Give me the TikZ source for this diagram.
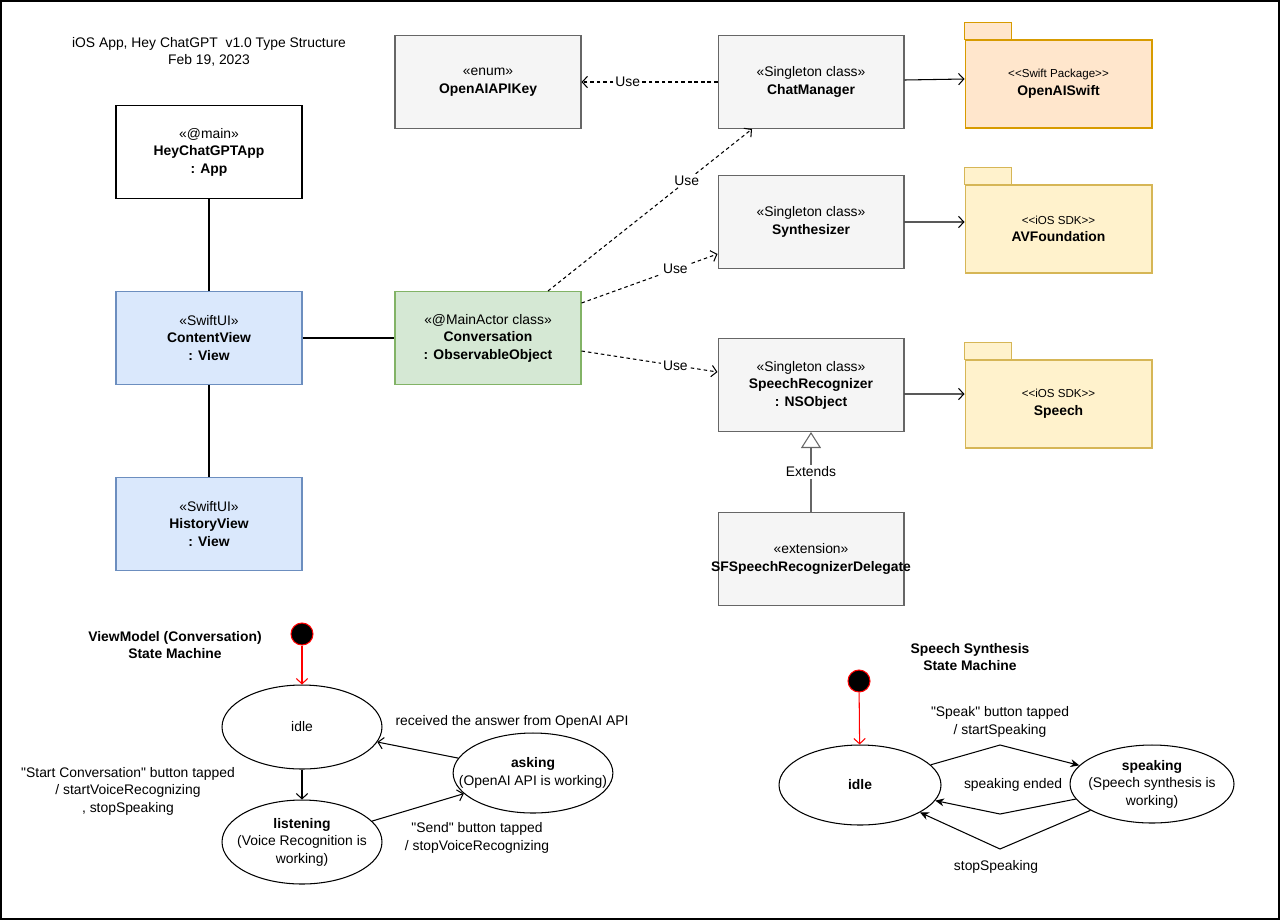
\documentclass[tikz,border=0pt]{standalone}
\usepackage{fontspec}
\setmainfont{Liberation Sans}[Ligatures=TeXOff]
\usetikzlibrary{arrows.meta,positioning,calc,shapes.geometric}

\definecolor{clsfill}{HTML}{F5F5F5}
\definecolor{clsline}{HTML}{666666}
\definecolor{viewfill}{HTML}{DAE8FC}
\definecolor{viewline}{HTML}{6C8EBF}
\definecolor{vmfill}{HTML}{D5E8D4}
\definecolor{vmline}{HTML}{82B366}
\definecolor{swfill}{HTML}{FFE6CC}
\definecolor{swline}{HTML}{D79B00}
\definecolor{sdkfill}{HTML}{FFF2CC}
\definecolor{sdkline}{HTML}{D6B656}

\begin{document}
\begin{tikzpicture}[x=0.02cm, y=-0.02cm, line width=0.6pt,
    font=\fontsize{7.9}{10}\selectfont,
    box/.style={draw, minimum width=3.72cm, minimum height=1.86cm, align=center, inner sep=1pt},
    cls/.style={box, draw=clsline, fill=clsfill},
    view/.style={box, draw=viewline, fill=viewfill},
    vm/.style={box, draw=vmline, fill=vmfill},
    pkg/.style={draw, minimum width=3.74cm, minimum height=1.76cm, align=center},
    use/.style={dash pattern=on 2pt off 1.7pt, -{Straight Barb[length=3pt,width=6.5pt]}},
    dep/.style={-{Straight Barb[length=3pt,width=6.5pt]}},
    lbl/.style={fill=white, inner sep=1pt},
    state/.style={ellipse, draw, inner xsep=-10pt, inner ysep=0pt, minimum width=3.2cm, minimum height=1.68cm, align=center},
    start/.style={circle, draw=red, fill=black, minimum size=0.44cm, inner sep=0pt},
    note/.style={align=center, inner sep=0pt}]
  \newcommand{\pkgtab}[2]{\draw[#2] (#1.north west) rectangle ++(47,-17);}
  \newcommand{\stereo}[1]{{\fontsize{6.6}{9}\selectfont #1}}
  \useasboundingbox (0,0) rectangle (1280,920);
  \draw[line width=1pt] (0.8,0.8) rectangle (1278.8,918.8);

  \node[note] (title) at (209,52) {iOS App, Hey ChatGPT\ \ v1.0 Type Structure\\ Feb 19, 2023};

  % views and the view model
  \node[box] (app) at (209,152) {«@main»\\ \textbf{HeyChatGPTApp}\\ \textbf{: App}};
  \node[view] (cview) at (209,338) {«SwiftUI»\\ \textbf{ContentView}\\ \textbf{: View}};
  \node[view] (hview) at (209,524) {«SwiftUI»\\ \textbf{HistoryView}\\ \textbf{: View}};
  \node[vm] (conv) at (488,338) {«@MainActor class»\\ \textbf{Conversation}\\ \textbf{: ObservableObject}};
  \draw (app) -- (cview);
  \draw (cview) -- (hview);
  \draw (cview) -- (conv);

  % model classes
  \node[cls] (apikey) at (488,82) {«enum»\\ \textbf{OpenAIAPIKey}};
  \node[cls] (chat) at (811,82) {«Singleton class»\\ \textbf{ChatManager}};
  \node[cls] (synth) at (811,222) {«Singleton class»\\ \textbf{Synthesizer}};
  \node[cls] (recog) at (811,385) {«Singleton class»\\ \textbf{SpeechRecognizer}\\ \textbf{: NSObject}};
  \node[cls, inner xsep=-5pt] (deleg) at (811,559) {«extension»\\ \textbf{SFSpeechRecognizerDelegate}};

  % packages
  \node[pkg, draw=swline, fill=swfill] (swiftpkg) at (1058.5,84)
       {\stereo{<\kern0pt<Swift Package>\kern0pt>}\\ \textbf{OpenAISwift}};
  \pkgtab{swiftpkg}{draw=swline, fill=swfill}
  \node[pkg, draw=sdkline, fill=sdkfill] (avf) at (1058.5,229)
       {\stereo{<\kern0pt<iOS SDK>\kern0pt>}\\ \textbf{AVFoundation}};
  \pkgtab{avf}{draw=sdkline, fill=sdkfill}
  \node[pkg, draw=sdkline, fill=sdkfill] (speech) at (1058.5,404)
       {\stereo{<\kern0pt<iOS SDK>\kern0pt>}\\ \textbf{Speech}};
  \pkgtab{speech}{draw=sdkline, fill=sdkfill}

  \draw[use] (chat) -- node[lbl, pos=0.66] {Use} (apikey);
  \draw[dep] ([yshift=0.04cm]chat.east) -- ([yshift=0.1cm]swiftpkg.west);
  \draw[dep] (synth.east) -- ([yshift=0.14cm]avf.west);
  \draw[dep] ([yshift=-0.18cm]recog.east) -- ([yshift=0.2cm]speech.west);
  \draw[use] ([xshift=1.2cm]conv.north) -- node[lbl, pos=0.68] {Use} ([xshift=-1.18cm]chat.south);
  \draw[use] ([yshift=0.7cm]conv.east) -- node[lbl, pos=0.69] {Use} ([yshift=-0.64cm]synth.west);
  \draw[use] ([yshift=-0.26cm]conv.east) -- node[lbl, pos=0.69] {Use} ([yshift=0.26cm]recog.west);
  \draw[clsline, -{Triangle[open, length=0.32cm, width=0.4cm]}] (deleg) -- node[lbl, text=black] {Extends} (recog);

  % state machine of the view model
  \node[note, font=\fontsize{7.9}{10}\selectfont\bfseries] (vmtitle) at (175,645)
       {ViewModel (Conversation)\\ State Machine};
  \node[start] (vmstart) at (302,634) {};
  \node[state] (vmidle) at (302,727) {idle};
  \node[state] (vmlisten) at (302,842) {\textbf{listening}\\ (Voice Recognition is\\ working)};
  \node[state, minimum width=3.14cm, minimum height=1.6cm] (vmask) at (533,773)
       {\textbf{asking}\\ (OpenAI API is working)};
  \draw[red, dep] (vmstart) -- (vmidle);
  \draw[dep] (vmidle) -- (vmlisten);
  \draw[dep] (vmlisten) -- (vmask);
  \draw[dep] (vmask) -- (vmidle);
  \node[note] (startlbl) at (128,791)
       {"Start Conversation" button tapped\\ / startVoiceRecognizing\\ , stopSpeaking};
  \node[note] (sendlbl) at (477,838) {"Send" button tapped\\ / stopVoiceRecognizing};
  \node[note] (answerlbl) at (512,722) {received the answer from OpenAI API};

  % state machine of the speech synthesis
  \node[note, font=\fontsize{7.9}{10}\selectfont\bfseries] (sstitle) at (970,657)
       {Speech Synthesis\\ State Machine};
  \node[start] (ssstart) at (859,681) {};
  \node[state, minimum width=3.24cm, minimum height=1.6cm] (ssidle) at (860,785) {\textbf{idle}};
  \node[state, minimum width=3.28cm, minimum height=1.56cm] (ssspeak) at (1152,784)
       {\textbf{speaking}\\ (Speech synthesis is\\ working)};
  \coordinate (bendup) at (1000,745);
  \coordinate (bendend) at (1000,814);
  \coordinate (bendstop) at (1000,849);
  \draw[red, dep] (ssstart) -- (ssidle);
  \draw[-{Stealth[length=5pt,width=4.5pt]}] (ssidle) -- (bendup) -- (ssspeak);
  \draw[-{Stealth[length=5pt,width=4.5pt]}] (ssspeak) -- (bendend) -- (ssidle);
  \draw[-{Stealth[length=5pt,width=4.5pt]}] (ssspeak) -- (bendstop) -- (ssidle);
  \node[note] (speaklbl) at (1000,722) {"Speak" button tapped\\ / startSpeaking};
  \node[note] (endlbl) at (1013,785) {speaking ended};
  \node[note] (stoplbl) at (996,867) {stopSpeaking};
\end{tikzpicture}
\end{document}
